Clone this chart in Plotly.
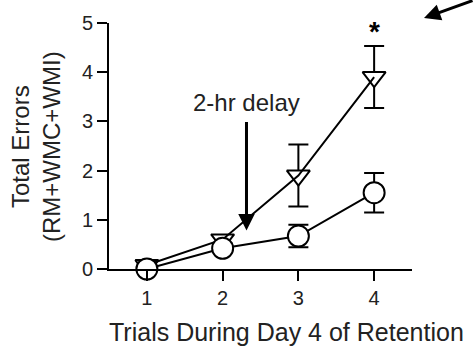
import plotly.graph_objects as go

trials = [1, 2, 3, 4]
tick_labels = ["1", "2", "3", "4"]
delay_mean = [0.08, 0.60, 1.90, 3.90]
delay_sem = [0.05, 0.08, 0.63, 0.63]
control_mean = [0.0, 0.42, 0.67, 1.55]
control_sem = [0.0, 0.08, 0.23, 0.40]

FONT = "Arial, Liberation Sans, sans-serif"
TXT = "#222222"

fig = go.Figure()

# delayed group: markers (white-filled down triangles) with error bars
fig.add_trace(go.Scatter(
    x=trials, y=delay_mean, mode="markers",
    marker=dict(symbol="triangle-down", size=20, color="white",
                line=dict(color="black", width=2)),
    error_y=dict(type="data", array=delay_sem, visible=True,
                 color="black", thickness=2, width=10),
    cliponaxis=False, showlegend=False))
# delayed group: connecting line drawn over the triangles
fig.add_trace(go.Scatter(
    x=trials, y=delay_mean, mode="lines",
    line=dict(color="black", width=2),
    cliponaxis=False, showlegend=False))
# control group: open circles
fig.add_trace(go.Scatter(
    x=trials, y=control_mean, mode="lines+markers",
    line=dict(color="black", width=2),
    marker=dict(symbol="circle", size=21, color="white",
                line=dict(color="black", width=2)),
    error_y=dict(type="data", array=control_sem, visible=True,
                 color="black", thickness=2, width=10),
    cliponaxis=False, showlegend=False))

annotations = [
    # 2-hr delay label and arrow
    dict(x=2.31, y=3.39, xref="x", yref="y", text="2-hr delay", showarrow=False,
         font=dict(family=FONT, size=24, color=TXT), xanchor="center", yanchor="middle"),
    dict(x=2.315, y=0.78, xref="x", yref="y", ax=2.315, ay=3.02, axref="x", ayref="y",
         text="", showarrow=True, arrowhead=2, arrowwidth=3, arrowsize=1.1, arrowcolor="black"),
    # significance asterisk
    dict(x=4, y=4.82, xref="x", yref="y", text="<b>*</b>", showarrow=False,
         font=dict(family=FONT, size=28, color="black"), xanchor="center", yanchor="middle",
         yshift=0),
    # axis titles
    dict(x=0.586, y=-0.256, xref="paper", yref="paper", text="Trials During Day 4 of Retention",
         showarrow=False, font=dict(family=FONT, size=25, color=TXT),
         xanchor="center", yanchor="middle"),
    dict(x=-0.241, y=0.5, xref="paper", yref="paper", text="Total Errors<br>(RM+WMC+WMI)",
         showarrow=False, textangle=-90, font=dict(family=FONT, size=24, color=TXT),
         xanchor="center", yanchor="middle"),
    # partial arrow at top right (from neighbouring panel)
    dict(x=1.0396, y=1.02, xref="paper", yref="paper", ax=56, ay=-18, text="",
         showarrow=True, arrowhead=2, arrowwidth=3, arrowsize=1.1, arrowcolor="black"),
]

fig.update_layout(
    width=474, height=347,
    margin=dict(l=109, r=62, t=19, b=78),
    paper_bgcolor="white", plot_bgcolor="white",
    font=dict(family=FONT, color=TXT),
    annotations=annotations,
    xaxis=dict(range=[0.5, 4.5], tickvals=trials, ticktext=tick_labels,
               showline=True, linecolor="black", linewidth=2,
               ticks="outside", ticklen=10, tickwidth=2, tickcolor="black",
               showgrid=False, zeroline=False,
               tickfont=dict(family=FONT, size=20, color=TXT)),
    yaxis=dict(range=[0, 5], tickvals=[0, 1, 2, 3, 4, 5],
               showline=True, linecolor="black", linewidth=2,
               ticks="outside", ticklen=10, tickwidth=2, tickcolor="black",
               showgrid=False, zeroline=False,
               tickfont=dict(family=FONT, size=20, color=TXT)),
)

fig.write_html("out.html")
